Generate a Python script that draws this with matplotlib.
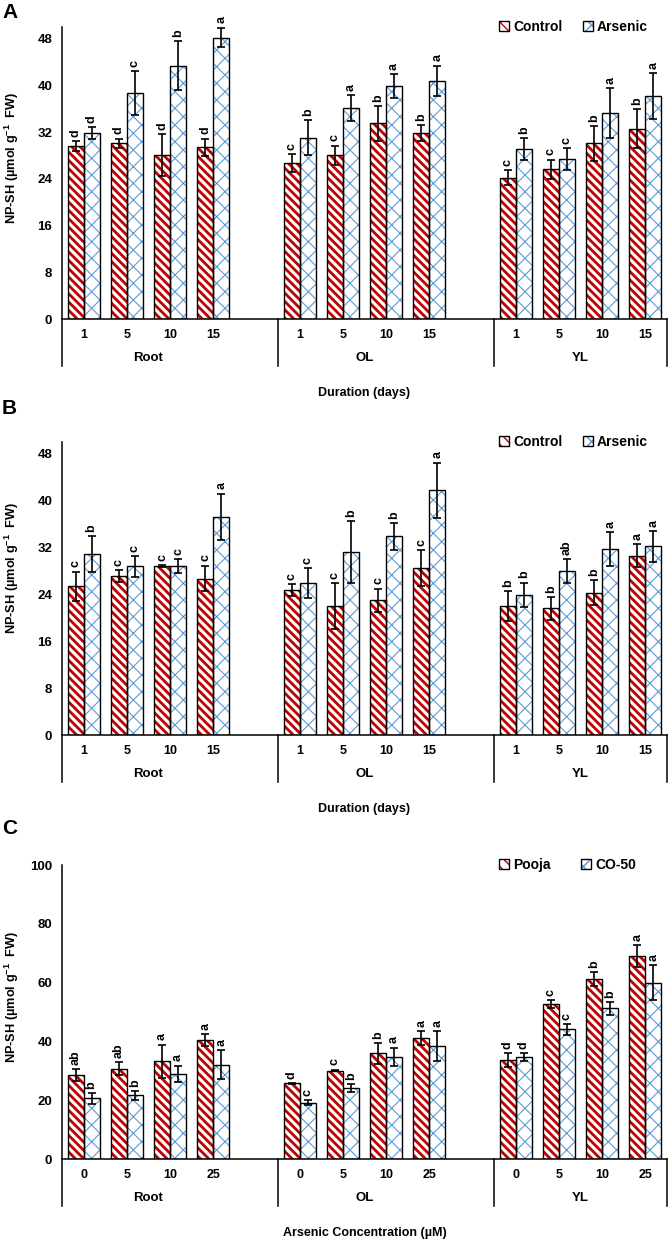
import matplotlib
matplotlib.use('Agg')
import matplotlib.pyplot as plt
from matplotlib.patches import Patch
from matplotlib.transforms import offset_copy

# ---------- fonts ----------
plt.rcParams['font.family'] = ['Liberation Sans', 'DejaVu Sans']
plt.rcParams['font.weight'] = 'bold'
plt.rcParams['mathtext.fontset'] = 'custom'
plt.rcParams['mathtext.rm'] = 'Liberation Sans:bold'
plt.rcParams['mathtext.bf'] = 'Liberation Sans:bold'
plt.rcParams['mathtext.it'] = 'Liberation Sans:bold'

C_RED = '#C00000'
C_BLUE = '#5B9BD5'

# ---------- data ----------
GROUPS = ['Root', 'OL', 'YL']
DAYS = ['1', '5', '10', '15']
CONC = ['0', '5', '10', '25']

# Panel A
a_ctrl     = [29.6, 30.1, 28.1, 29.4, 26.7, 28.0, 33.5, 31.8, 24.2, 25.6, 30.1, 32.6]
a_ctrl_err = [0.8, 0.8, 3.6, 1.5, 1.6, 1.7, 3.0, 1.4, 1.3, 1.7, 3.0, 3.4]
a_as       = [31.9, 38.7, 43.4, 48.2, 31.0, 36.1, 39.9, 40.8, 29.1, 27.4, 35.3, 38.2]
a_as_err   = [1.0, 3.8, 4.2, 1.7, 3.0, 2.2, 2.1, 2.6, 1.9, 1.9, 4.3, 3.9]
a_ctrl_lbl = ['d', 'd', 'd', 'd', 'c', 'c', 'b', 'b', 'c', 'c', 'b', 'b']
a_as_lbl   = ['d', 'c', 'b', 'a', 'b', 'a', 'a', 'a', 'b', 'c', 'a', 'a']

# Panel B
b_ctrl     = [25.4, 27.1, 28.8, 26.7, 24.8, 22.0, 23.0, 28.5, 22.0, 21.6, 24.3, 30.6]
b_ctrl_err = [2.5, 1.0, 0.2, 2.2, 1.0, 3.9, 2.0, 3.0, 2.6, 1.9, 2.2, 2.0]
b_as       = [30.9, 28.8, 28.8, 37.2, 25.9, 31.2, 33.9, 41.8, 23.9, 28.0, 31.7, 32.2]
b_as_err   = [3.0, 1.8, 1.2, 4.0, 2.6, 5.3, 2.3, 4.7, 2.1, 2.0, 2.9, 2.6]
b_ctrl_lbl = ['c', 'c', 'c', 'c', 'c', 'c', 'c', 'c', 'b', 'b', 'b', 'a']
b_as_lbl   = ['b', 'c', 'c', 'a', 'c', 'b', 'b', 'a', 'b', 'ab', 'a', 'a']

# Panel C
c_pooja     = [28.7, 30.7, 33.3, 40.4, 25.7, 30.1, 35.9, 41.2, 33.6, 52.6, 61.3, 69.0]
c_pooja_err = [2.0, 2.2, 5.6, 2.1, 0.2, 0.3, 3.6, 2.4, 2.3, 1.4, 2.4, 3.7]
c_co        = [20.6, 21.7, 29.0, 32.1, 19.1, 24.2, 34.7, 38.4, 34.6, 44.1, 51.2, 60.0]
c_co_err    = [1.8, 1.5, 2.8, 4.9, 0.9, 1.4, 3.2, 5.2, 1.4, 1.8, 2.3, 5.9]
c_pooja_lbl = ['ab', 'ab', 'a', 'a', 'd', 'c', 'b', 'a', 'd', 'c', 'b', 'a']
c_co_lbl    = ['b', 'b', 'a', 'a', 'c', 'b', 'a', 'a', 'd', 'c', 'b', 'a']

# ---------- layout (pixels) ----------
W, H = 669, 1240
DPI = 100
BW = 0.37           # bar width in category units
XPOS = [5 * g + i for g in range(3) for i in range(4)]

fig = plt.figure(figsize=(W / DPI, H / DPI), dpi=DPI)


def add_ax(top_px, bottom_px, left_px=62, right_px=667):
    return fig.add_axes([left_px / W, 1 - bottom_px / H,
                         (right_px - left_px) / W, (bottom_px - top_px) / H])


def hatched_bars(ax, x, h, color, hatch, hlw):
    with plt.rc_context({'hatch.linewidth': hlw}):
        bars = ax.bar(x, h, width=BW, facecolor='white', edgecolor=color,
                      hatch=hatch, linewidth=0, zorder=2)
    for p in bars:
        if hasattr(p, 'set_hatch_linewidth'):
            p.set_hatch_linewidth(hlw)
    ax.bar(x, h, width=BW, facecolor='none', edgecolor='black',
           linewidth=1.0, zorder=3)


def panel(ax, s1, e1, l1, s2, e2, l2, cats, ymax, ystep, ylim_top, xlabel, ylab_y):
    x1 = [x - BW / 2 for x in XPOS]
    x2 = [x + BW / 2 for x in XPOS]
    hatched_bars(ax, x1, s1, C_RED, '\\\\\\\\', 2.0)
    hatched_bars(ax, x2, s2, C_BLUE, 'xx', 0.8)
    for xs, s, e, lbls in ((x1, s1, e1, l1), (x2, s2, e2, l2)):
        ax.errorbar(xs, s, yerr=e, fmt='none', ecolor='black', elinewidth=1.2,
                    capsize=3, capthick=1.2, zorder=4)
        for xi, si, ei, lb in zip(xs, s, e, lbls):
            ax.annotate(lb, xy=(xi, si + ei), xytext=(0, 3), textcoords='offset points',
                        rotation=90, ha='center', va='bottom', fontsize=9,
                        fontweight='bold')

    ax.set_xlim(-0.5, 13.5)
    ax.set_ylim(0, ylim_top)
    ax.set_yticks(range(0, ymax + 1, ystep))
    ax.tick_params(axis='y', length=0, pad=7, labelsize=9.5)
    ax.set_xticks([])
    for sp in ('top', 'right'):
        ax.spines[sp].set_visible(False)
    for sp in ('left', 'bottom'):
        ax.spines[sp].set_linewidth(1.1)

    ax.set_ylabel('NP-SH (µmol g$^{-1}$  FW)', fontsize=9.2, fontweight='bold')
    ax.yaxis.set_label_coords(-41 / 605, ylab_y)

    # multi-level category axis
    tr = ax.get_xaxis_transform()
    t_cat = offset_copy(tr, fig=fig, y=-16, units='dots')
    t_grp = offset_copy(tr, fig=fig, y=-39, units='dots')
    for x, c in zip(XPOS, cats * 3):
        ax.text(x, 0, c, transform=t_cat, ha='center', va='center',
                fontsize=9, fontweight='bold')
    for g, name in enumerate(GROUPS):
        ax.text(5 * g + 1.5, 0, name, transform=t_grp, ha='center', va='center',
                fontsize=9.5, fontweight='bold')
    ax_h = ax.bbox.height
    for xv in (-0.5, 4.5, 9.5, 13.5):
        ax.plot([xv, xv], [0, -47 / ax_h], transform=tr, color='black',
                linewidth=1.1, clip_on=False)

    ax.text(0.5, 0, xlabel, transform=offset_copy(ax.transAxes, fig=fig, y=-74, units='dots'),
            ha='center', va='center', fontsize=9, fontweight='bold')

    h1 = (Patch(facecolor='white', edgecolor=C_RED, hatch='\\\\\\', linewidth=0),
          Patch(facecolor='none', edgecolor='black', linewidth=1.0))
    h2 = (Patch(facecolor='white', edgecolor=C_BLUE, hatch='xx', linewidth=0),
          Patch(facecolor='none', edgecolor='black', linewidth=1.0))
    return h1, h2


def legend(ax, handles, names, xr, colsp):
    ax.legend(list(handles), names, loc='center right',
              bbox_to_anchor=(xr, 1.0), ncol=2, frameon=False, fontsize=10,
              handlelength=0.7, handleheight=0.7, handletextpad=0.3,
              columnspacing=colsp, borderpad=0)


ax_a = add_ax(27, 319)
ha = panel(ax_a, a_ctrl, a_ctrl_err, a_ctrl_lbl, a_as, a_as_err, a_as_lbl,
           DAYS, 48, 8, 50, 'Duration (days)', 0.55)
legend(ax_a, ha, ['Control', 'Arsenic'], 0.98, 1.5)

ax_b = add_ax(442, 735)
hb = panel(ax_b, b_ctrl, b_ctrl_err, b_ctrl_lbl, b_as, b_as_err, b_as_lbl,
           DAYS, 48, 8, 50, 'Duration (days)', 0.57)
legend(ax_b, hb, ['Control', 'Arsenic'], 0.98, 1.5)

ax_c = add_ax(865, 1159)
hc = panel(ax_c, c_pooja, c_pooja_err, c_pooja_lbl, c_co, c_co_err, c_co_lbl,
           CONC, 100, 20, 100, 'Arsenic Concentration (µM)', 0.55)
legend(ax_c, hc, ['Pooja', 'CO-50'], 0.96, 2.2)

for lab, ypx in (('A', 13), ('B', 408), ('C', 828)):
    fig.text(2 / W, 1 - ypx / H, lab, fontsize=15, fontweight='bold',
             ha='left', va='center')

fig.savefig('out.png', dpi=DPI)
plt.close(fig)
